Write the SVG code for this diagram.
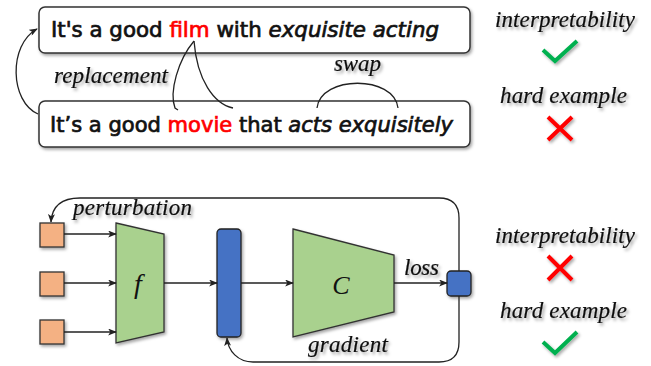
<svg xmlns="http://www.w3.org/2000/svg" width="651" height="366" viewBox="0 0 651 366">
<defs>
<filter id="sh" x="-20%" y="-20%" width="140%" height="160%">
<feDropShadow dx="1.5" dy="2" stdDeviation="1.5" flood-color="#000" flood-opacity="0.35"/>
</filter>
<filter id="tsh" x="-10%" y="-30%" width="130%" height="180%">
<feDropShadow dx="2" dy="2.5" stdDeviation="1.5" flood-color="#000" flood-opacity="0.35"/>
</filter>
<marker id="ah" viewBox="0 0 10 8" refX="9" refY="4" markerWidth="9" markerHeight="7" markerUnits="userSpaceOnUse" orient="auto">
<path d="M0,0 L10,4 L0,8 L2.5,4 z" fill="#222"/>
</marker>
</defs>
<style>
.box{fill:#fff;stroke:#333;stroke-width:1.5;filter:url(#sh)}
.sent{font-family:'DejaVu Sans',sans-serif;font-size:20.5px;fill:#111;stroke:#111;stroke-width:0.7}
.red{fill:#ff0000;stroke:#ff0000}
.it{font-style:italic}
.lab{font-family:'Liberation Serif','Times New Roman',serif;font-style:italic;font-size:23px;fill:#111;stroke:#111;stroke-width:0.2;filter:url(#tsh)}
.ln{fill:none;stroke:#222;stroke-width:1.3}
.arr{fill:none;stroke:#222;stroke-width:1.3;marker-end:url(#ah)}
.org{fill:#f4b183;stroke:#333;stroke-width:1.3;filter:url(#sh)}
.grn{fill:#a9d18e;stroke:#333;stroke-width:1.3;filter:url(#sh)}
.blu{fill:#4472c4;stroke:#222;stroke-width:1.3;filter:url(#sh)}
.ok{fill:none;stroke:#00b050;stroke-width:4;filter:url(#sh)}
.no{fill:none;stroke:#ff0000;stroke-width:4;filter:url(#sh)}
.math{font-family:'Liberation Serif','Times New Roman',serif;font-style:italic;fill:#111}
</style>

<g id="sentence1">
<rect class="box" x="39" y="7" width="431" height="46" rx="6"/>
<text class="sent" x="51" y="37" textLength="388" lengthAdjust="spacingAndGlyphs">It's a good <tspan class="red">film</tspan> with <tspan class="it">exquisite acting</tspan></text>
</g>
<g id="sentence2">
<rect class="box" x="39" y="101" width="431" height="46" rx="6"/>
<text class="sent" x="50" y="132" textLength="403" lengthAdjust="spacingAndGlyphs">It’s a good <tspan class="red">movie</tspan> that <tspan class="it">acts exquisitely</tspan></text>
</g>
<g id="label-replacement"><text class="lab" x="54" y="83" textLength="114" lengthAdjust="spacing">replacement</text></g>
<g id="label-swap"><text class="lab" x="334" y="71" textLength="47" lengthAdjust="spacing">swap</text></g>

<g id="top-connectors">
<path class="arr" d="M38,114 C10,102 8,45 37,29"/>
<path class="ln" d="M194,41 C178,60 169,92 175,108 L178,110"/>
<path class="ln" d="M194,41 C197,80 214,104 233,108"/>
<path class="ln" d="M317,108 C321,75 394,75 398,108"/>
</g>

<g id="eval-top">
<text class="lab" x="495" y="27" textLength="140" lengthAdjust="spacing">interpretability</text>
<path class="ok" d="M543,50 L555,61 L577,41"/>
<text class="lab" x="500" y="103" textLength="127" lengthAdjust="spacing">hard example</text>
<path class="no" d="M548,117 L572,140 M572,117 L548,140"/>
</g>

<g id="eval-bottom">
<text class="lab" x="495" y="243" textLength="140" lengthAdjust="spacing">interpretability</text>
<path class="no" d="M548,256 L572,280 M572,256 L548,280"/>
<text class="lab" x="500" y="318" textLength="127" lengthAdjust="spacing">hard example</text>
<path class="ok" d="M543,342 L555,353 L577,332"/>
</g>

<g id="input1"><rect class="org" x="40" y="223" width="24" height="24"/></g>
<g id="input2"><rect class="org" x="40" y="272" width="24" height="24"/></g>
<g id="input3"><rect class="org" x="40" y="320" width="24" height="24"/></g>
<g id="encoder-f">
<polygon class="grn" points="116,223 164,234 164,332 116,343"/>
<text class="math" x="138" y="293" font-size="28" text-anchor="middle">f</text>
</g>
<g id="embedding"><rect class="blu" x="217" y="229" width="24" height="108" rx="4"/></g>
<g id="classifier-C">
<polygon class="grn" points="293,229 394,255 394,312 293,337"/>
<text class="math" x="341" y="294" font-size="26" text-anchor="middle">C</text>
</g>
<g id="loss-node"><rect class="blu" x="447" y="271" width="24" height="25" rx="4"/></g>
<g id="label-loss"><text class="lab" x="404" y="275" textLength="35" lengthAdjust="spacing">loss</text></g>
<g id="label-perturbation"><text class="lab" x="73" y="215" textLength="119" lengthAdjust="spacing">perturbation</text></g>
<g id="label-gradient"><text class="lab" x="308" y="352" textLength="80" lengthAdjust="spacing">gradient</text></g>

<g id="connectors">
<path class="arr" d="M64,234 H116"/>
<path class="arr" d="M64,283 H116"/>
<path class="arr" d="M64,332 H116"/>
<path class="arr" d="M164,283 H217"/>
<path class="arr" d="M241,283 H293"/>
<path class="arr" d="M394,283 H447"/>
<path class="arr" d="M459,271 V218 Q459,198 439,198 H80 C62,198 52,205 51,222"/>
<path class="arr" d="M459,296 V342 Q459,362 439,362 H253 C238,362 228,351 227,338"/>
</g>
</svg>
